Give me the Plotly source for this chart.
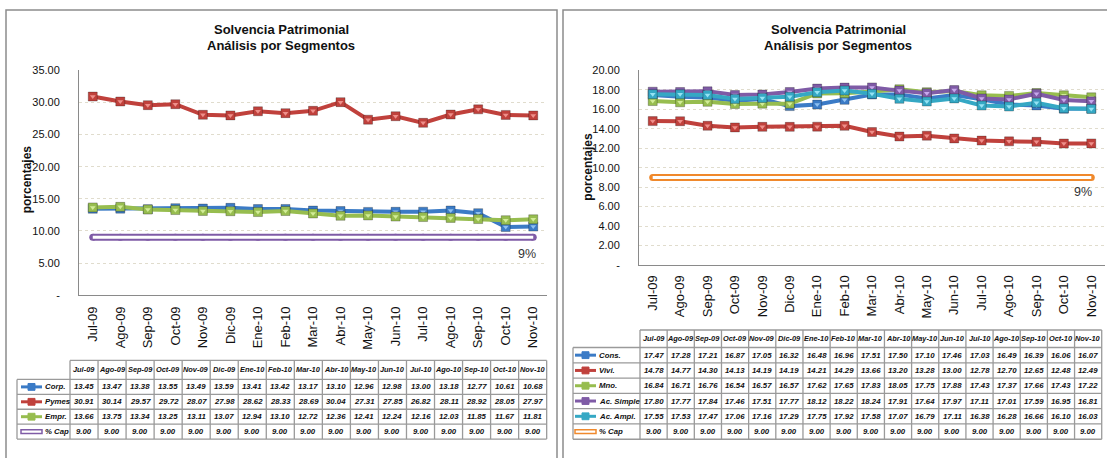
import plotly.graph_objects as go

W, H = 1107, 458

# ---- data -------------------------------------------------------------
months = ["Jul-09", "Ago-09", "Sep-09", "Oct-09", "Nov-09", "Dic-09", "Ene-10", "Feb-10",
          "Mar-10", "Abr-10", "May-10", "Jun-10", "Jul-10", "Ago-10", "Sep-10", "Oct-10", "Nov-10"]

corp = [13.45, 13.47, 13.38, 13.55, 13.49, 13.59, 13.41, 13.42, 13.17, 13.10, 12.96, 12.98, 13.00, 13.18, 12.77, 10.61, 10.68]
pymes = [30.91, 30.14, 29.57, 29.72, 28.07, 27.98, 28.62, 28.33, 28.69, 30.04, 27.31, 27.85, 26.82, 28.11, 28.92, 28.05, 27.97]
empr = [13.66, 13.75, 13.34, 13.25, 13.11, 13.07, 12.94, 13.10, 12.72, 12.36, 12.41, 12.24, 12.16, 12.03, 11.85, 11.67, 11.81]
cap_left = [9.00, 9.00, 9.00, 9.00, 9.00, 9.00, 9.00, 9.00, 9.00, 9.00, 9.00, 9.00, 9.00, 9.00, 9.00, 9.00, 9.00]

cons = [17.47, 17.28, 17.21, 16.87, 17.05, 16.32, 16.48, 16.96, 17.51, 17.50, 17.10, 17.46, 17.03, 16.49, 16.39, 16.06, 16.07]
vivi = [14.78, 14.77, 14.30, 14.13, 14.19, 14.19, 14.21, 14.29, 13.66, 13.20, 13.28, 13.00, 12.78, 12.70, 12.65, 12.48, 12.49]
mno = [16.84, 16.71, 16.76, 16.54, 16.57, 16.57, 17.62, 17.65, 17.83, 18.05, 17.75, 17.88, 17.43, 17.37, 17.66, 17.43, 17.22]
ac_simple = [17.80, 17.77, 17.84, 17.46, 17.51, 17.77, 18.12, 18.22, 18.24, 17.91, 17.64, 17.97, 17.11, 17.01, 17.59, 16.95, 16.81]
ac_ampl = [17.55, 17.53, 17.47, 17.06, 17.16, 17.29, 17.75, 17.92, 17.58, 17.07, 16.79, 17.11, 16.38, 16.28, 16.66, 16.10, 16.03]
cap_right = [9.00, 9.00, 9.00, 9.00, 9.00, 9.00, 9.00, 9.00, 9.00, 9.00, 9.00, 9.00, 9.00, 9.00, 9.00, 9.00, 9.00]

left_names = ["Corp.", "Pymes", "Empr.", "% Cap"]
right_names = ["Cons.", "Vivi.", "Mno.", "Ac. Simple", "Ac. Ampl.", "% Cap"]

left_ticks = [0, 5, 10, 15, 20, 25, 30, 35]
left_ticktext = ["-", "5.00", "10.00", "15.00", "20.00", "25.00", "30.00", "35.00"]
right_ticks = [0, 2, 4, 6, 8, 10, 12, 14, 16, 18, 20]
right_ticktext = ["-", "2.00", "4.00", "6.00", "8.00", "10.00", "12.00", "14.00", "16.00", "18.00", "20.00"]

title_1 = "Solvencia Patrimonial"
title_2 = "Análisis por Segmentos"
y_title = "porcentajes"
cap_label = "9%"

# ---- styling ----------------------------------------------------------
FONT = "Liberation Sans, Arial, sans-serif"
BLUE, RED, GREEN = "#3b7bc6", "#c0413c", "#97bd4f"
PURPLE, TEAL, ORANGE = "#7f5ba6", "#35a8c4", "#f0892c"
LIGHT = {BLUE: "#8fc0f0", RED: "#ee8f8a", GREEN: "#d2ec98", PURPLE: "#c7a8ec", TEAL: "#95e3f3"}
GRID = "#e0dccd"
AXIS = "#8a8a8a"
TBL = "#9a9a9a"


def fx(px):
    return px / W


def fy(py):
    return 1 - py / H


left_series = [(corp, BLUE), (pymes, RED), (empr, GREEN)]
right_series = [(cons, BLUE), (vivi, RED), (mno, GREEN), (ac_simple, PURPLE), (ac_ampl, TEAL)]

fig = go.Figure()


def add_series(values, color, xa, ya):
    fig.add_trace(go.Scatter(
        x=months, y=values, xaxis=xa, yaxis=ya, mode="lines+markers",
        line=dict(color=color, width=4),
        marker=dict(symbol="square", size=9, color=color,
                    line=dict(color="rgba(0,0,0,0.25)", width=1)),
        showlegend=False, hoverinfo="skip"))
    fig.add_trace(go.Scatter(
        x=months, y=values, xaxis=xa, yaxis=ya, mode="markers",
        marker=dict(symbol="triangle-down", size=5, color=LIGHT[color], line=dict(width=0)),
        showlegend=False, hoverinfo="skip"))


def add_cap(values, color, xa, ya):
    # hollow band: thick coloured stroke with a white core
    fig.add_trace(go.Scatter(
        x=months, y=values, xaxis=xa, yaxis=ya, mode="lines+markers",
        line=dict(color=color, width=7),
        marker=dict(symbol="circle", size=7, color=color, line=dict(width=0)),
        showlegend=False, hoverinfo="skip"))
    fig.add_trace(go.Scatter(
        x=months, y=values, xaxis=xa, yaxis=ya, mode="lines",
        line=dict(color="white", width=3), showlegend=False, hoverinfo="skip"))


for vals, col in left_series:
    add_series(vals, col, "x", "y")
add_cap(cap_left, PURPLE, "x", "y")
for vals, col in right_series:
    add_series(vals, col, "x2", "y2")
add_cap(cap_right, ORANGE, "x2", "y2")

xcommon = dict(type="category", range=[-0.5, 16.5], tickangle=-90,
               tickfont=dict(family=FONT, size=13, color="#111"),
               showline=True, linecolor=AXIS, linewidth=1, showgrid=False,
               ticks="", fixedrange=True)
ycommon = dict(showline=True, linecolor=AXIS, linewidth=1, showgrid=True,
               gridcolor=GRID, griddash="dot", gridwidth=1, zeroline=False,
               tickfont=dict(family=FONT, size=11, color="#111"), ticks="",
               ticklabelstandoff=16, fixedrange=True)

fig.update_layout(
    width=W, height=H, autosize=False,
    margin=dict(l=0, r=0, t=0, b=0),
    paper_bgcolor="white", plot_bgcolor="white",
    xaxis=dict(xcommon, domain=[fx(79), fx(547)], anchor="y", ticklabelstandoff=5),
    yaxis=dict(ycommon, domain=[fy(297), fy(66)], range=[0, 35], anchor="x",
               tickvals=left_ticks, ticktext=left_ticktext),
    xaxis2=dict(xcommon, domain=[fx(639), fx(1105)], anchor="y2", ticklabelstandoff=4),
    yaxis2=dict(ycommon, domain=[fy(266), fy(66)], range=[0, 20], anchor="x2",
                tickvals=right_ticks, ticktext=right_ticktext),
)

shapes = []
annotations = []

# panel frames
for x0, x1 in [(6, 557), (563, 1125)]:
    shapes.append(dict(type="rect", xref="paper", yref="paper",
                       x0=fx(x0), x1=fx(x1), y0=fy(4), y1=fy(475),
                       line=dict(color="#8c8c8c", width=1.5), fillcolor="rgba(0,0,0,0)",
                       layer="below"))

# titles
for cx in (281, 838):
    annotations.append(dict(xref="paper", yref="paper", x=fx(cx), y=fy(24),
                            text="<b>%s</b>" % title_1, showarrow=False,
                            font=dict(family=FONT, size=13, color="#111"),
                            xanchor="center", yanchor="middle"))
    annotations.append(dict(xref="paper", yref="paper", x=fx(cx), y=fy(41),
                            text="<b>%s</b>" % title_2, showarrow=False,
                            font=dict(family=FONT, size=13, color="#111"),
                            xanchor="center", yanchor="middle"))

# y-axis titles
for cx, cy in [(27, 178), (588, 165)]:
    annotations.append(dict(xref="paper", yref="paper", x=fx(cx), y=fy(cy),
                            text="<b>%s</b>" % y_title, showarrow=False, textangle=-90,
                            font=dict(family=FONT, size=12, color="#111"),
                            xanchor="center", yanchor="middle"))

# cap labels
annotations.append(dict(xref="x", yref="y", x=months[-1], y=cap_left[-1], text=cap_label,
                        showarrow=False, xshift=-6, yshift=-17,
                        font=dict(family=FONT, size=12.5, color="#333")))
annotations.append(dict(xref="x2", yref="y2", x=months[-1], y=cap_right[-1], text=cap_label,
                        showarrow=False, xshift=-8, yshift=-15,
                        font=dict(family=FONT, size=12.5, color="#333")))


def hline(x0, x1, y):
    shapes.append(dict(type="line", xref="paper", yref="paper", x0=fx(x0), x1=fx(x1),
                       y0=fy(y), y1=fy(y), line=dict(color=TBL, width=1.3)))


def vline(x, y0, y1):
    shapes.append(dict(type="line", xref="paper", yref="paper", x0=fx(x), x1=fx(x),
                       y0=fy(y0), y1=fy(y1), line=dict(color=TBL, width=1.3)))


def data_table(leg_x0, col_x0, col_w, head_top, head_bot, row_h, rows, names, colors, sym_x0, sym_x1, text_x):
    ncol = len(months)
    col_x1 = col_x0 + ncol * col_w
    nrows = len(rows)
    row_tops = [head_bot + i * row_h for i in range(nrows + 1)]
    bottom = row_tops[-1]
    # grid
    hline(col_x0, col_x1, head_top)
    for yt in row_tops:
        hline(leg_x0, col_x1, yt)
    vline(leg_x0, head_bot, bottom)
    for i in range(ncol + 1):
        vline(col_x0 + i * col_w, head_top, bottom)
    # header
    for i, m in enumerate(months):
        annotations.append(dict(xref="paper", yref="paper",
                                x=fx(col_x0 + (i + 0.5) * col_w), y=fy((head_top + head_bot) / 2),
                                text="<b><i>%s</i></b>" % m, showarrow=False,
                                font=dict(family=FONT, size=7.4, color="#111"),
                                xanchor="center", yanchor="middle"))
    # rows
    for r, (vals, name, col) in enumerate(zip(rows, names, colors)):
        cy = row_tops[r] + row_h / 2
        for i, v in enumerate(vals):
            annotations.append(dict(xref="paper", yref="paper",
                                    x=fx(col_x0 + (i + 0.5) * col_w), y=fy(cy),
                                    text="<b><i>%.2f</i></b>" % v, showarrow=False,
                                    font=dict(family=FONT, size=7.8, color="#111"),
                                    xanchor="center", yanchor="middle"))
        annotations.append(dict(xref="paper", yref="paper", x=fx(text_x), y=fy(cy),
                                text="<b><i>%s</i></b>" % name, showarrow=False,
                                font=dict(family=FONT, size=7.8, color="#111"),
                                xanchor="left", yanchor="middle"))
        # legend key
        if r < nrows - 1:
            shapes.append(dict(type="line", xref="paper", yref="paper",
                               x0=fx(sym_x0), x1=fx(sym_x1), y0=fy(cy), y1=fy(cy),
                               line=dict(color=col, width=3)))
            mx = (sym_x0 + sym_x1) / 2
            shapes.append(dict(type="rect", xref="paper", yref="paper",
                               x0=fx(mx - 3.5), x1=fx(mx + 3.5), y0=fy(cy - 3.5), y1=fy(cy + 3.5),
                               line=dict(color=col, width=1), fillcolor=col))
        else:
            shapes.append(dict(type="rect", xref="paper", yref="paper",
                               x0=fx(sym_x0), x1=fx(sym_x1), y0=fy(cy - 2), y1=fy(cy + 2),
                               line=dict(color=col, width=1.5), fillcolor="white"))


data_table(17, 70, 28.04, 364, 383.5, 15.3,
           [corp, pymes, empr, cap_left], left_names, [BLUE, RED, GREEN, PURPLE],
           21, 42, 43)
data_table(573, 640, 27.16, 332.7, 350.7, 15.7,
           [cons, vivi, mno, ac_simple, ac_ampl, cap_right], right_names,
           [BLUE, RED, GREEN, PURPLE, TEAL, ORANGE],
           575, 596, 597)

fig.update_layout(shapes=shapes, annotations=annotations)
fig.write_html("out.html")
